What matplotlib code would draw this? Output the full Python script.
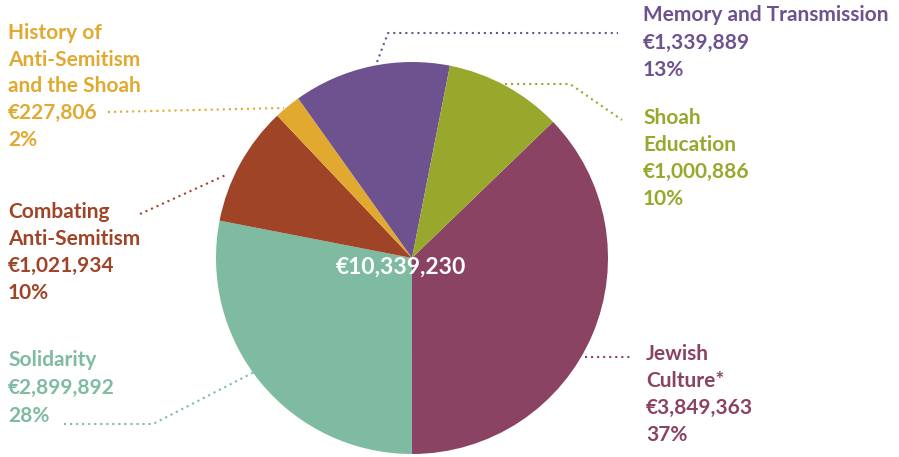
import matplotlib.pyplot as plt

# Donnees
categories = ['Jewish\nCulture*', 'Solidarity', 'Combating\nAnti-Semitism',
              'History of\nAnti-Semitism\nand the Shoah', 'Memory and Transmission',
              'Shoah\nEducation']
montants = [3849363, 2899892, 1021934, 227806, 1339889, 1000886]
pourcentages = ['37%', '28%', '10%', '2%', '13%', '10%']
total_affiche = '€10,339,230'
couleurs = ['#8A4363', '#7EBBA0', '#A04428', '#E2A930', '#6E5290', '#97A82D']

H = 457  # hauteur en pixels, pour passer des coordonnees image aux donnees

# position (x, y du centre de la 1ere ligne, interligne) de chaque etiquette
pos_etiquettes = [(646, 354, 27), (8, 360, 28), (8, 212, 27),
                  (8, 33, 26.7), (643, 15, 27.5), (643, 118, 27)]
# lignes pointillees (points en pixels)
guides = [
    [(585, 357), (632, 357)],
    [(64, 424), (153, 424), (264, 367)],
    [(140, 214), (228, 174)],
    [(108, 112), (284, 108)],
    [(377, 62), (388, 33), (618, 33)],
    [(505, 84), (570, 84), (622, 120)],
]

fig = plt.figure(figsize=(8.99, 4.57), dpi=100)
ax = fig.add_axes([0, 0, 1, 1])

ax.pie(montants, colors=couleurs, startangle=44, counterclock=False,
       center=(412, H - 258), radius=196, frame=True,
       wedgeprops=dict(linewidth=0))
ax.set_xlim(0, 899)
ax.set_ylim(0, H)
ax.set_aspect('equal')
ax.axis('off')

ax.text(401, H - 267, total_affiche, color='white', fontsize=16.5,
        family='Lato', fontweight='bold', ha='center', va='center')

for cat, m, p, c, (x, y, dy), g in zip(categories, montants, pourcentages,
                                        couleurs, pos_etiquettes, guides):
    lignes = cat.split('\n') + ['€{:,}'.format(m), p]
    for i, l in enumerate(lignes):
        ax.text(x, H - (y + i * dy), l, color=c, fontsize=15, family='Lato',
                fontweight='bold', ha='left', va='center')
    xs = [pt[0] for pt in g]
    ys = [H - pt[1] for pt in g]
    ax.plot(xs, ys, color=c, lw=1.5, linestyle=(0, (1, 1.9)))

fig.savefig('out.png', dpi=100)
